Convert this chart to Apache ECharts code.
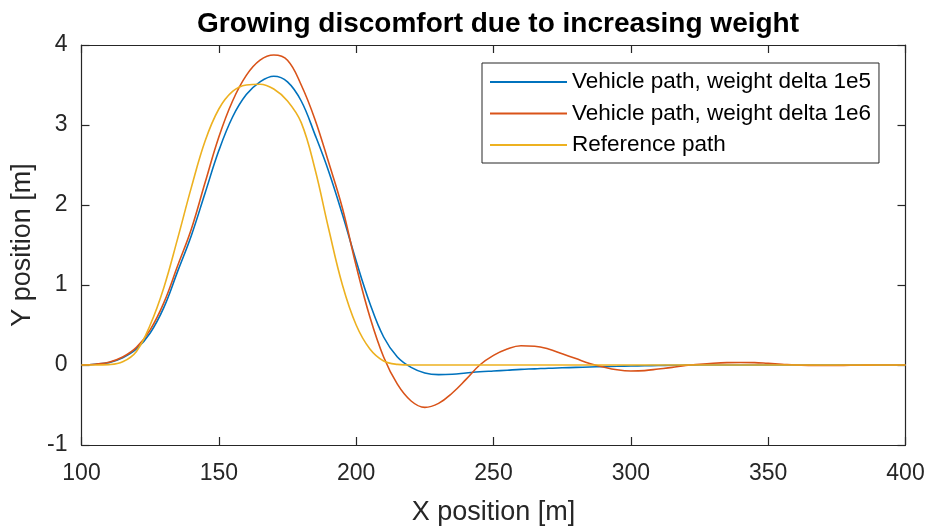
<!DOCTYPE html>
<html>
<head>
<meta charset="utf-8">
<title>Growing discomfort due to increasing weight</title>
<script src="https://cdn.jsdelivr.net/npm/echarts@6/dist/echarts.min.js"></script>
<style>
  html, body { margin: 0; padding: 0; background: #fff; }
  #chart { width: 930px; height: 530px; }
</style>
</head>
<body>
<div id="chart"></div>
<script>
// X positions along the road [m]
const xPositions = [
  100, 105, 110, 115, 120, 125, 130, 135, 140, 145,
  150, 155, 160, 165, 170, 175, 180, 185, 190, 195,
  200, 205, 210, 215, 220, 225, 230, 235, 240, 245,
  250, 255, 260, 265, 270, 275, 280, 285, 290, 295,
  300, 305, 310, 315, 320, 325, 330, 335, 340, 345,
  350, 355, 360, 365, 370, 375, 380, 385, 390, 395, 400
];

// Lateral position, weight delta 1e5 [m]
const pathDelta1e5 = [
  0, 0.01, 0.03, 0.09, 0.2, 0.4, 0.72, 1.17, 1.62, 2.15,
  2.68, 3.1, 3.38, 3.54, 3.61, 3.54, 3.3, 2.88, 2.42, 1.88,
  1.3, 0.77, 0.35, 0.1, -0.03, -0.1, -0.12, -0.115, -0.1, -0.085,
  -0.075, -0.065, -0.055, -0.048, -0.04, -0.035, -0.03, -0.025, -0.02, -0.016,
  -0.012, -0.009, -0.006, -0.004, -0.002, 0, 0, 0, 0, 0,
  0, 0, 0, 0, 0, 0, 0, 0, 0, 0, 0
];

// Lateral position, weight delta 1e6 [m]
const pathDelta1e6 = [
  0, 0.01, 0.035, 0.1, 0.22, 0.44, 0.78, 1.24, 1.7, 2.28,
  2.85, 3.3, 3.62, 3.81, 3.875, 3.81, 3.5, 3.07, 2.53, 1.96,
  1.24, 0.6, 0.1, -0.24, -0.45, -0.53, -0.48, -0.35, -0.18, 0,
  0.12, 0.2, 0.24, 0.235, 0.2, 0.14, 0.08, 0.02, -0.025, -0.06,
  -0.075, -0.07, -0.05, -0.03, -0.005, 0.01, 0.022, 0.03, 0.032, 0.03,
  0.02, 0.01, 0, -0.005, -0.007, -0.006, -0.004, -0.002, 0, 0, 0
];

// Reference lateral path [m]
const referencePath = [
  0, 0, 0.005, 0.04, 0.17, 0.5, 0.97, 1.58, 2.22, 2.8,
  3.2, 3.42, 3.5, 3.51, 3.45, 3.3, 3.03, 2.45, 1.7, 1.0,
  0.5, 0.2, 0.05, 0.008, 0, 0, 0, 0, 0, 0,
  0, 0, 0, 0, 0, 0, 0, 0, 0, 0,
  0, 0, 0, 0, 0, 0, 0, 0, 0, 0,
  0, 0, 0, 0, 0, 0, 0, 0, 0, 0, 0
];

const seriesNames = [
  'Vehicle path, weight delta 1e5',
  'Vehicle path, weight delta 1e6',
  'Reference path'
];
const seriesColors = ['#0072BD', '#D95319', '#EDB120'];

const xTicks = { min: 100, max: 400, step: 50 };
const yTicks = { min: -1, max: 4, step: 1 };

const FONT = '"Liberation Sans", Arial, Helvetica, sans-serif';
const AXIS_COLOR = '#262626';

function pairs(ys) {
  return xPositions.map((x, i) => [x, ys[i]]);
}

function lineSeries(name, ys, color) {
  return {
    name: name,
    type: 'line',
    data: pairs(ys),
    xAxisIndex: 0,
    yAxisIndex: 0,
    showSymbol: false,
    symbol: 'none',
    smooth: 0.4,
    lineStyle: { color: color, width: 1.6 },
    itemStyle: { color: color },
    animation: false
  };
}

function valueAxisX(extra) {
  return Object.assign({
    type: 'value',
    min: xTicks.min,
    max: xTicks.max,
    interval: xTicks.step,
    axisLine: { show: true, onZero: false, lineStyle: { color: AXIS_COLOR, width: 1.2 } },
    axisTick: { show: true, inside: true, length: 8, lineStyle: { color: AXIS_COLOR, width: 1.2 } },
    splitLine: { show: false }
  }, extra);
}

function valueAxisY(extra) {
  return Object.assign({
    type: 'value',
    min: yTicks.min,
    max: yTicks.max,
    interval: yTicks.step,
    axisLine: { show: true, onZero: false, lineStyle: { color: AXIS_COLOR, width: 1.2 } },
    axisTick: { show: true, inside: true, length: 8, lineStyle: { color: AXIS_COLOR, width: 1.2 } },
    splitLine: { show: false }
  }, extra);
}

const chart = echarts.init(document.getElementById('chart'), null, { renderer: 'canvas' });

chart.setOption({
  animation: false,
  backgroundColor: '#ffffff',
  textStyle: { fontFamily: FONT },
  title: {
    text: 'Growing discomfort due to increasing weight',
    left: 493,
    top: 5,
    textAlign: 'center',
    textStyle: { fontFamily: FONT, fontSize: 28, fontWeight: 'bold', color: '#000000' }
  },
  grid: {
    left: 81.5,
    right: 24.5,
    top: 45,
    bottom: 85,
    containLabel: false,
    outerBoundsMode: 'none'
  },
  legend: {
    data: seriesNames,
    orient: 'vertical',
    left: 482,
    top: 63,
    padding: [6, 8, 5, 8],
    itemWidth: 77,
    itemHeight: 2,
    itemGap: 5.5,
    icon: 'rect',
    backgroundColor: '#ffffff',
    borderColor: AXIS_COLOR,
    borderWidth: 1,
    borderRadius: 0,
    textStyle: { fontFamily: FONT, fontSize: 22.5, color: '#000000', lineHeight: 26 }
  },
  xAxis: [
    valueAxisX({
      position: 'bottom',
      name: 'X position [m]',
      nameLocation: 'middle',
      nameGap: 54,
      nameTextStyle: { fontFamily: FONT, fontSize: 27, color: AXIS_COLOR },
      axisLabel: { show: true, margin: 17, fontFamily: FONT, fontSize: 23, color: AXIS_COLOR }
    }),
    valueAxisX({
      position: 'top',
      axisLabel: { show: false }
    })
  ],
  yAxis: [
    valueAxisY({
      position: 'left',
      name: 'Y position [m]',
      nameLocation: 'middle',
      nameGap: 45,
      nameTextStyle: { fontFamily: FONT, fontSize: 27, color: AXIS_COLOR },
      axisLabel: { show: true, margin: 14, fontFamily: FONT, fontSize: 23, color: AXIS_COLOR }
    }),
    valueAxisY({
      position: 'right',
      axisLabel: { show: false }
    })
  ],
  series: [
    lineSeries(seriesNames[0], pathDelta1e5, seriesColors[0]),
    lineSeries(seriesNames[1], pathDelta1e6, seriesColors[1]),
    lineSeries(seriesNames[2], referencePath, seriesColors[2])
  ]
});
</script>
</body>
</html>
